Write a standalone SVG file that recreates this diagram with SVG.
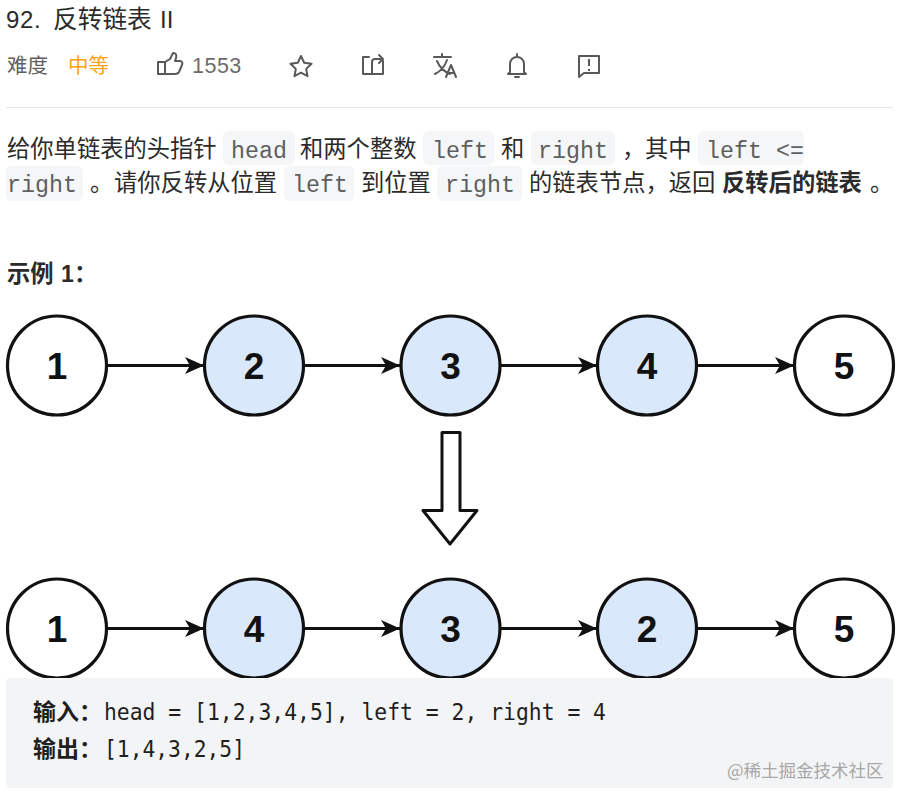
<svg xmlns="http://www.w3.org/2000/svg" width="906" height="804" viewBox="0 0 906 804">
<style>
text{font-family:"Liberation Sans","Noto Sans CJK SC",sans-serif;fill:#2b2b2b}
.cn{font-size:23.3px;font-family:"Noto Sans CJK SC",sans-serif}
.b{font-weight:700}
.code{font-family:"Liberation Mono","DejaVu Sans Mono",monospace;font-size:23.3px;fill:#5f5f5f}
.bg{fill:#f5f6f7}
.out{font-family:"DejaVu Sans Mono",monospace;font-size:23px;fill:#1f1f1f}
.outb{font-family:"Noto Sans CJK SC",sans-serif;font-size:23px;font-weight:700;fill:#1f1f1f}
.n{fill:#fff;stroke:#111;stroke-width:3.2}
.h{fill:#dae8fc;stroke:#111;stroke-width:3.2}
.num{font-size:37px;font-weight:700;text-anchor:middle;fill:#111}
.link{stroke:#111;stroke-width:3;fill:none;marker-end:url(#ah)}
.ic{fill:none;stroke:#595959;stroke-width:2;stroke-linejoin:round;stroke-linecap:round}
</style>
<defs>
<marker id="ah" markerUnits="userSpaceOnUse" markerWidth="20" markerHeight="18" refX="19" refY="9" orient="auto">
<path d="M0 0.5L19 9L0 17.5L5 9Z" fill="#111"/>
</marker>
</defs>
<rect width="906" height="804" fill="#fff"/>

<g id="header">
<text x="6" y="28" font-size="24" letter-spacing="0.6" fill="#333">92.</text>
<text x="53" y="28" font-size="24.7" style="font-family:'Noto Sans CJK SC',sans-serif" fill="#333">反转链表</text>
<text x="160" y="28" font-size="24" fill="#333">II</text>
<text x="7" y="73" font-size="20.5" style="font-family:'Noto Sans CJK SC',sans-serif;fill:#5f5f5f">难度</text>
<text x="68" y="73" font-size="20.5" style="font-family:'Noto Sans CJK SC',sans-serif;fill:#ffa116">中等</text>
<text x="192" y="73" font-size="21.5" letter-spacing="0.5" style="fill:#6b6b6b">1553</text>
<path class="ic" d="M158 62h7v12h-7zM165 62l5-3 3-6c3 0 4 2 3 5l-1 3h5c2 0 3 2 2 4l-3 7c-1 2-2 2-4 2h-10"/>
<path class="ic" d="M301 56l3.200 6.800 7.300 1-5.300 5.100 1.300 7.300-6.500-3.500-6.500 3.500 1.300-7.300-5.300-5.100 7.300-1z"/>
<path class="ic" d="M369 57h-6v17h20v-13M372 74v-12c0-2 1-3 3-3h7M379 55l4 4-4 4"/>
<path class="ic" d="M434 57h17M442 54v3M437 61c3 7 8 11 13 13M447 60c-2 6-6 11-12 14M446 77l5-12 5 12M448 73h6"/>
<path class="ic" d="M510 72v-8c0-4 3-7 7-7s7 3 7 7v8l2 2h-18zM515 77h4M517 54v3"/>
<path class="ic" d="M579 56h20v17h-15l-5 4z"/>
<path d="M589 59v7M589 69v2" stroke="#595959" stroke-width="2" fill="none"/>
</g>
<rect id="divider" x="6" y="107" width="887" height="1" fill="#e6e6e6"/>

<g id="description">
<rect class="bg" x="223" y="131" width="72" height="34" rx="6"/>
<rect class="bg" x="423" y="131" width="71" height="34" rx="6"/>
<rect class="bg" x="531" y="131" width="84" height="34" rx="6"/>
<rect class="bg" x="698" y="131" width="106" height="34" rx="6"/>
<rect class="bg" x="6" y="166" width="77" height="35" rx="6"/>
<rect class="bg" x="284" y="166" width="70" height="35" rx="6"/>
<rect class="bg" x="437" y="166" width="85" height="35" rx="6"/>
<text class="cn" x="7" y="157">给你单链表的头指针</text>
<text class="code" x="231" y="158">head</text>
<text class="cn" x="300" y="157">和两个整数</text>
<text class="code" x="432" y="158">left</text>
<text class="cn" x="501" y="157">和</text>
<text class="code" x="538" y="158">right</text>
<text class="cn" x="622" y="157">，</text>
<text class="cn" x="645" y="157">其中</text>
<text class="code" x="706" y="158">left &lt;=</text>
<text class="code" x="7" y="192">right</text>
<text class="cn" x="90" y="191">。</text>
<text class="cn" x="114" y="191">请你反转从位置</text>
<text class="code" x="292" y="192">left</text>
<text class="cn" x="361" y="191">到位置</text>
<text class="code" x="445" y="192">right</text>
<text class="cn" x="529" y="191">的链表节点，返回</text>
<text class="cn b" x="722" y="191">反转后的链表</text>
<text class="cn" x="870" y="191">。</text>
<text class="cn b" x="7" y="282">示例</text>
<text class="b" x="61" y="282" font-size="23">1</text>
<text class="cn b" x="74" y="282" font-size="22">：</text>
</g>

<g id="connectors">
<line class="link" x1="108" y1="365.500" x2="204" y2="365.500"/>
<line class="link" x1="305" y1="365.500" x2="400" y2="365.500"/>
<line class="link" x1="501" y1="365.500" x2="597" y2="365.500"/>
<line class="link" x1="698" y1="365.500" x2="794" y2="365.500"/>
<line class="link" x1="108" y1="628.500" x2="204" y2="628.500"/>
<line class="link" x1="305" y1="628.500" x2="400" y2="628.500"/>
<line class="link" x1="501" y1="628.500" x2="597" y2="628.500"/>
<line class="link" x1="698" y1="628.500" x2="794" y2="628.500"/>
<path id="transform-arrow" d="M442 432.500H460V510.500H477L450 544L423 510.500H442Z" fill="#fff" stroke="#111" stroke-width="3" stroke-linejoin="round"/>
</g>

<g id="n1"><circle class="n" cx="57" cy="365.500" r="49.500"/><text class="num" x="57" y="379">1</text></g>
<g id="n2"><circle class="h" cx="254" cy="365.500" r="49.500"/><text class="num" x="254" y="379">2</text></g>
<g id="n3"><circle class="h" cx="450.500" cy="365.500" r="49.500"/><text class="num" x="450.500" y="379">3</text></g>
<g id="n4"><circle class="h" cx="647" cy="365.500" r="49.500"/><text class="num" x="647" y="379">4</text></g>
<g id="n5"><circle class="n" cx="844" cy="365.500" r="49.500"/><text class="num" x="844" y="379">5</text></g>
<g id="m1"><circle class="n" cx="57" cy="628.500" r="49.500"/><text class="num" x="57" y="642">1</text></g>
<g id="m4"><circle class="h" cx="254" cy="628.500" r="49.500"/><text class="num" x="254" y="642">4</text></g>
<g id="m3"><circle class="h" cx="450.500" cy="628.500" r="49.500"/><text class="num" x="450.500" y="642">3</text></g>
<g id="m2"><circle class="h" cx="647" cy="628.500" r="49.500"/><text class="num" x="647" y="642">2</text></g>
<g id="m5"><circle class="n" cx="844" cy="628.500" r="49.500"/><text class="num" x="844" y="642">5</text></g>

<g id="example">
<rect x="6" y="678" width="887" height="110" rx="4" fill="#f3f4f5"/>
<text class="outb" x="33" y="720">输入：</text>
<text class="out" x="104" y="720" textLength="502" lengthAdjust="spacingAndGlyphs">head = [1,2,3,4,5], left = 2, right = 4</text>
<text class="outb" x="33" y="757">输出：</text>
<text class="out" x="104" y="757" textLength="141" lengthAdjust="spacingAndGlyphs">[1,4,3,2,5]</text>
<text x="727" y="777" font-size="17.500" style="font-family:'Noto Sans CJK SC',sans-serif;fill:#a8a8a8">@稀土掘金技术社区</text>
</g>
</svg>
